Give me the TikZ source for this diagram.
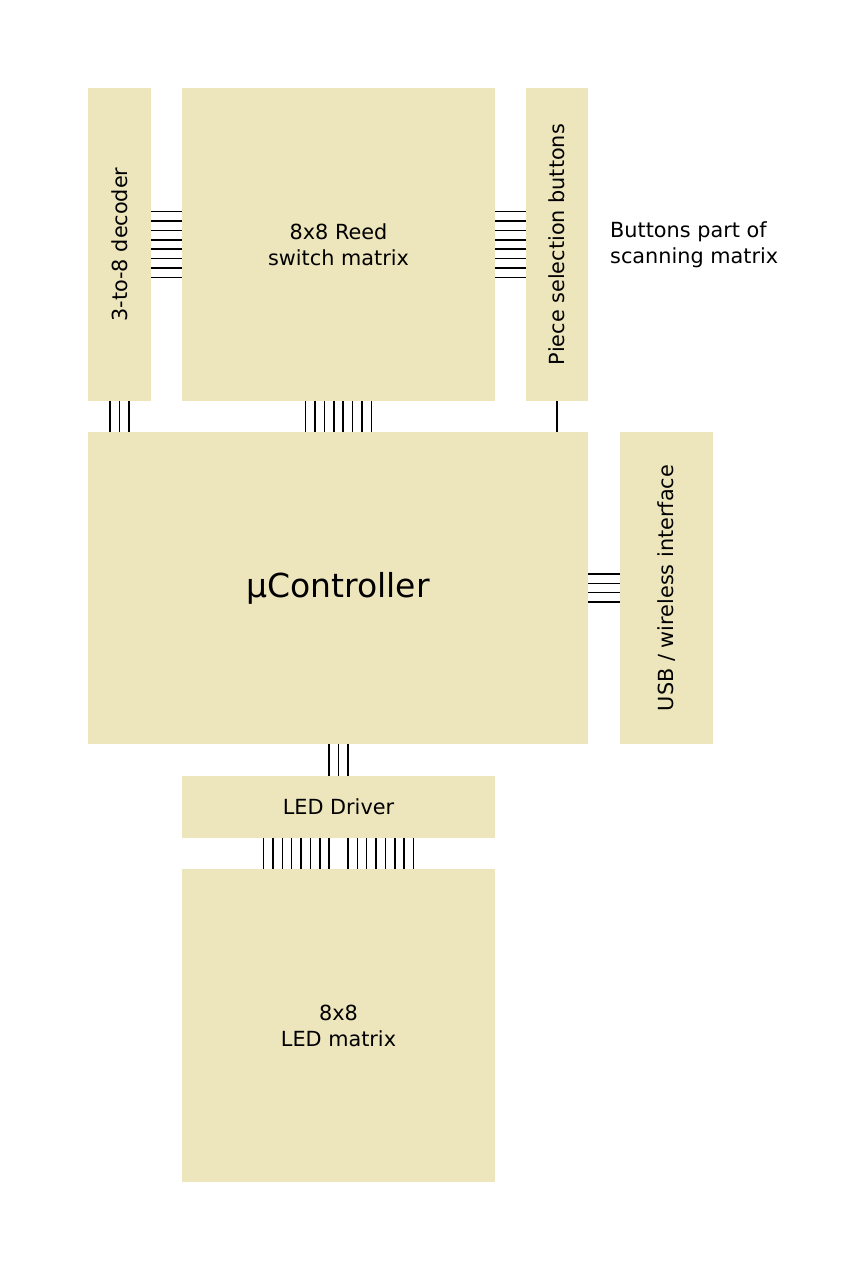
\documentclass[tikz,border=0pt]{standalone}
\usepackage{fontspec}
\setmainfont{DejaVu Sans}
\usetikzlibrary{calc}
\definecolor{boxfill}{HTML}{EDE5BB}
\tikzset{
  blk/.style={fill=boxfill, draw=none, inner sep=0pt, outer sep=0pt, align=center,
    font=\fontsize{20.8}{26}\selectfont},
  rtxt/.style={rotate=90, inner sep=0pt, font=\fontsize{20.8}{26}\selectfont},
  wire/.style={draw=black, line width=1.5pt},
  note/.style={inner sep=0pt, align=left, anchor=west, font=\fontsize{20.8}{26}\selectfont}
}
\begin{document}
\begin{tikzpicture}[x=1pt,y=-1pt]
\useasboundingbox (0,0) rectangle (867,1270);
\node[blk, minimum width=63pt, minimum height=313pt] (dec) at (119.5,244.5) {};
\node[rtxt] (dect) at (dec.center) {3-to-8 decoder};
\node[blk, minimum width=313pt, minimum height=313pt] (reed) at (338.5,244.5) {8x8 Reed\\switch matrix};
\node[blk, minimum width=62pt, minimum height=313pt] (piece) at (557,244.5) {};
\node[rtxt] (piecet) at (piece.center) {Piece selection buttons};
\node[note] (btn) at (610,245) {Buttons part of\\scanning matrix};
\node[blk, minimum width=500pt, minimum height=312pt, font=\fontsize{33}{40}\selectfont] (mc) at (338,588) {µController};
\node[blk, minimum width=93pt, minimum height=312pt] (usb) at (666.5,588) {};
\node[rtxt] (usbt) at (usb.center) {USB / wireless interface};
\node[blk, minimum width=313pt, minimum height=62pt] (drv) at (338.5,807) {LED Driver};
\node[blk, minimum width=313pt, minimum height=313pt] (led) at (338.5,1025.5) {8x8\\LED matrix};
% decoder - reed
\foreach \k in {-3.5,-2.5,...,3.5}
  \draw[wire] ($(dec.east)+(0,\k*9.375)$) -- ($(reed.west)+(0,\k*9.375)$);
% piece - reed
\foreach \k in {-3.5,-2.5,...,3.5}
  \draw[wire] ($(reed.east)+(0,\k*9.375)$) -- ($(piece.west)+(0,\k*9.375)$);
% decoder - mc
\foreach \k in {-1,0,1}
  \draw[wire] ($(dec.south)+(\k*9.375,0)$) -- ($(mc.north -| dec.south)+(\k*9.375,0)$);
% reed - mc
\foreach \k in {-3.5,-2.5,...,3.5}
  \draw[wire] ($(reed.south)+(\k*9.375,0)$) -- ($(mc.north -| reed.south)+(\k*9.375,0)$);
% piece - mc
\draw[wire] (piece.south) -- (piece.south |- mc.north);
% mc - usb
\foreach \k in {-1.5,-0.5,0.5,1.5}
  \draw[wire] ($(mc.east)+(0,\k*9.375)$) -- ($(usb.west)+(0,\k*9.375)$);
% mc - driver
\foreach \k in {-1,0,1}
  \draw[wire] ($(drv.north)+(\k*9.375,0)$) -- ($(mc.south -| drv.north)+(\k*9.375,0)$);
% driver - led
\foreach \k in {-8,...,-1,1,2,...,8}
  \draw[wire] ($(drv.south)+(\k*9.375,0)$) -- ($(led.north)+(\k*9.375,0)$);
\end{tikzpicture}
\end{document}
